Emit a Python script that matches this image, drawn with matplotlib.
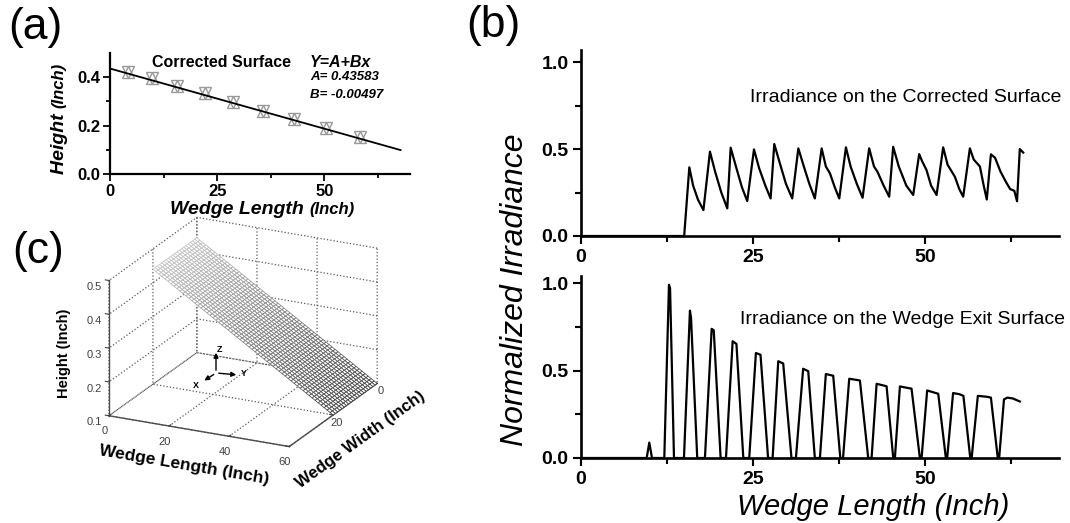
import numpy as np
import matplotlib
matplotlib.use("Agg")
import matplotlib.pyplot as plt
from matplotlib.ticker import FixedLocator
from matplotlib.patches import FancyArrowPatch
from mpl_toolkits.mplot3d.art3d import Poly3DCollection

plt.rcParams['font.family'] = ['Liberation Sans', 'DejaVu Sans']

W, H = 1070, 523

# ---------------- data ----------------
# (a) measured heights along the corrected surface and the linear fit
sample_x = [4.1, 9.7, 15.7, 22.1, 28.7, 35.7, 43.0, 50.4, 58.4]
sample_h = [0.423, 0.395, 0.365, 0.333, 0.299, 0.262, 0.226, 0.189, 0.152]
fit_A = 0.43583
fit_B = -0.00497
fit_x_end = 67.8

# (b) irradiance on the corrected surface
corrected_x = [0, 15.0, 15.75, 16.3, 17.0, 17.8,
               18.75, 19.5, 20.4, 21.27,
               21.76, 22.6, 23.4, 24.17,
               25.15, 25.9, 26.8, 27.57,
               28.1, 28.9, 29.8, 30.71,
               31.6, 32.4, 33.2, 34.0,
               34.99, 35.6, 36.2, 36.9, 37.55,
               38.52, 39.2, 40.1, 40.94,
               41.9, 42.6, 43.1, 44.0, 44.81,
               45.39, 46.2, 47.3, 48.3,
               49.17, 49.6, 50.24, 50.9, 51.7,
               52.66, 53.3, 54.36, 55.0, 55.57,
               56.54, 57.1, 58.0, 58.5, 59.0,
               59.6, 60.2, 61.0, 61.8, 62.4, 63.0, 63.4,
               63.8, 64.3]
corrected_y = [0, 0, 0.395, 0.29, 0.21, 0.149,
               0.485, 0.37, 0.25, 0.159,
               0.508, 0.39, 0.28, 0.201,
               0.498, 0.39, 0.29, 0.216,
               0.529, 0.42, 0.30, 0.216,
               0.504, 0.40, 0.30, 0.216,
               0.504, 0.40, 0.36, 0.28, 0.216,
               0.51, 0.40, 0.30, 0.22,
               0.504, 0.40, 0.37, 0.29, 0.226,
               0.513, 0.40, 0.29, 0.236,
               0.471, 0.43, 0.379, 0.29, 0.236,
               0.51, 0.41, 0.341, 0.27, 0.226,
               0.504, 0.44, 0.40, 0.30, 0.21,
               0.47, 0.45, 0.37, 0.31, 0.27, 0.26, 0.20,
               0.50, 0.48]

# (b) irradiance on the wedge exit surface
exit_x = [0, 9.55, 9.93, 10.32,
          12.11, 12.79, 12.95, 13.52,
          14.97, 15.84, 16.0, 16.9,
          18.02, 19.0, 19.3, 20.3,
          21.08, 22.05, 22.6, 23.6,
          24.46, 25.43, 26.1, 27.2,
          27.86, 28.68, 29.4, 30.6,
          31.25, 32.3, 33.04, 34.0,
          34.74, 35.6, 36.67, 37.7,
          38.1, 39.0, 40.55, 41.76,
          42.25, 42.98, 44.43, 45.4,
          45.64, 46.37, 48.06, 49.27,
          49.52, 50.33, 51.94, 53.05,
          53.24, 54.1, 55.0, 55.6, 56.6,
          56.8, 57.7, 59.0, 59.6, 60.6,
          60.8, 61.5, 62.0, 62.8, 63.8]
exit_y = [0, 0, 0.088, 0,
          0, 0.99, 0.97, 0,
          0, 0.842, 0.80, 0,
          0, 0.738, 0.73, 0,
          0, 0.667, 0.652, 0,
          0, 0.60, 0.59, 0,
          0, 0.553, 0.54, 0,
          0, 0.51, 0.496, 0,
          0, 0.48, 0.47, 0,
          0, 0.453, 0.443, 0,
          0, 0.424, 0.41, 0,
          0, 0.409, 0.396, 0,
          0, 0.386, 0.367, 0,
          0, 0.371, 0.365, 0.355, 0,
          0, 0.355, 0.35, 0.345, 0,
          0, 0.335, 0.345, 0.34, 0.323]

# (c) wedge surface: length/width extent and heights at both ends
wedge_length_ends = [0, 60]
wedge_height_ends = [0.44, 0.10]
wedge_width = 20
x3_ticks = [0, 20, 40, 60]
y3_ticks = [0, 20, 40]
y3_ticklabels = ['0', '20', '']
z3_ticks = [0.1, 0.2, 0.3, 0.4, 0.5]


def px_rect(left, top, right, bottom):
    return [left / W, 1 - bottom / H, (right - left) / W, (bottom - top) / H]


def fx(x):
    return x / W


def fy(y):
    return 1 - y / H


fig = plt.figure(figsize=(W / 100, H / 100), dpi=100)
fig.patch.set_facecolor('white')


def style_2d(ax, lw):
    for s in ('top', 'right'):
        ax.spines[s].set_visible(False)
    for s in ('left', 'bottom'):
        ax.spines[s].set_linewidth(lw)
    ax.tick_params(which='both', direction='out', width=lw * 0.8)
    ax.tick_params(which='major', length=5)
    ax.tick_params(which='minor', length=3)


# ---------------- (a) ----------------
ax_a = fig.add_axes(px_rect(110, 53, 410, 174))
style_2d(ax_a, 1.6)
ax_a.set_xlim(0, 70)
ax_a.set_ylim(0, 0.5)
ax_a.xaxis.set_major_locator(FixedLocator([0, 25, 50]))
ax_a.xaxis.set_minor_locator(FixedLocator([12.5, 37.5, 62.5]))
ax_a.yaxis.set_major_locator(FixedLocator([0, 0.2, 0.4]))
ax_a.yaxis.set_minor_locator(FixedLocator([0.1, 0.3]))
ax_a.set_xticklabels(['0', '25', '50'])
ax_a.set_yticklabels(['0.0', '0.2', '0.4'])
for lab in ax_a.get_xticklabels() + ax_a.get_yticklabels():
    lab.set_fontweight('bold')
    lab.set_fontsize(12)
ax_a.tick_params(axis='both', pad=2)

ax_a.plot([0, fit_x_end], [fit_A, fit_A + fit_B * fit_x_end], color='black', lw=1.3, zorder=3)
for mk in ('^', 'v'):
    ax_a.plot(sample_x, sample_h, linestyle='none', marker=mk, ms=8.5, mfc='none', mec='0.6',
              mew=1.0, zorder=2)

fig.text(fx(152), fy(62), 'Corrected Surface', fontsize=11.5, fontweight='bold', ha='left', va='center')
fig.text(fx(310), fy(62), 'Y=A+Bx', fontsize=11.5, fontweight='bold', style='italic', ha='left', va='center')
fig.text(fx(310), fy(77.5), 'A= %.5f' % fit_A, fontsize=9.5, fontweight='bold', style='italic', ha='left', va='center')
fig.text(fx(310), fy(94.5), 'B= %.5f' % fit_B, fontsize=9.5, fontweight='bold', style='italic', ha='left', va='center')

t_wl = fig.text(fx(170), fy(214), 'Wedge Length ', fontsize=14, fontweight='bold', style='italic',
                ha='left', va='baseline')
ax_a.annotate('(Inch)', xy=(1, 0), xycoords=t_wl, xytext=(0, 0.6), textcoords='offset points',
              fontsize=12, fontweight='bold', style='italic', ha='left', va='bottom', annotation_clip=False)

t_h = fig.text(fx(60), fy(174), 'Height ', fontsize=14, fontweight='bold', style='italic',
               rotation=90, ha='center', va='bottom')
ax_a.annotate('(Inch)', xy=(0.5, 1), xycoords=t_h, xytext=(-0.6, 0), textcoords='offset points',
              fontsize=12, fontweight='bold', style='italic', rotation=90, ha='center', va='bottom',
              annotation_clip=False)

# ---------------- (b) ----------------
ax_b1 = fig.add_axes(px_rect(581, 50, 1059, 236))
ax_b2 = fig.add_axes(px_rect(581, 276, 1059, 458))
for ax, ytop in ((ax_b1, 1.07), (ax_b2, 1.04)):
    style_2d(ax, 1.9)
    ax.set_xlim(0, 69.5)
    ax.set_ylim(0, ytop)
    ax.xaxis.set_major_locator(FixedLocator([0, 25, 50]))
    ax.xaxis.set_minor_locator(FixedLocator([12.5, 37.5, 62.5]))
    ax.yaxis.set_major_locator(FixedLocator([0, 0.5, 1.0]))
    ax.yaxis.set_minor_locator(FixedLocator([0.25, 0.75]))
    ax.set_xticklabels(['0', '25', '50'])
    ax.set_yticklabels(['0.0', '0.5', '1.0'])
    for lab in ax.get_xticklabels() + ax.get_yticklabels():
        lab.set_fontweight('bold')
        lab.set_fontsize(14)
    ax.tick_params(which='major', length=6)
    ax.tick_params(which='minor', length=4)
    ax.tick_params(axis='both', pad=3)

ax_b1.plot(corrected_x, corrected_y, color='black', lw=1.6, clip_on=False)
ax_b2.plot(exit_x, exit_y, color='black', lw=1.6, clip_on=False)

fig.text(fx(1061), fy(97), 'Irradiance on the Corrected Surface', fontsize=14, ha='right', va='center')
fig.text(fx(1065), fy(319), 'Irradiance on the Wedge Exit Surface', fontsize=14, ha='right', va='center')
fig.text(fx(515), fy(290), 'Normalized Irradiance', fontsize=23, style='italic', rotation=90,
         ha='center', va='center')
fig.text(fx(873), fy(507), 'Wedge Length (Inch)', fontsize=21, style='italic', ha='center', va='center')

# ---------------- (c) ----------------
grid_rc = {'grid.linestyle': ':', 'grid.color': '0.35', 'grid.linewidth': 0.9}
with plt.rc_context(grid_rc):
    ax_c = fig.add_axes(px_rect(34, 186, 444, 486), projection='3d')
ax_c.set_proj_type('ortho')
ax_c.view_init(elev=20.5, azim=-64)
ax_c.set_box_aspect((1, 1, 0.72), zoom=1.03)
ax_c.set_xlim(0, 60)
ax_c.set_ylim(40, 0)
ax_c.set_zlim(0.1, 0.5)
ax_c.set_xticks(x3_ticks)
ax_c.set_yticks(y3_ticks)
ax_c.set_yticklabels(y3_ticklabels)
ax_c.set_zticks(z3_ticks)
ax_c.set_zticklabels(['%.1f' % v for v in z3_ticks])
ax_c.set_facecolor('none')
for axis in (ax_c.xaxis, ax_c.yaxis, ax_c.zaxis):
    axis.set_pane_color((1, 1, 1, 0))
    axis.pane.set_edgecolor((1, 1, 1, 0))
    axis._axinfo['grid'].update({'color': '0.35', 'linestyle': ':', 'linewidth': 0.9})
    axis.line.set_color('0.3')
    axis.line.set_linewidth(1.0)
    axis._axinfo['tick']['inward_factor'] = 0.0
    axis._axinfo['tick']['outward_factor'] = 0.25
ax_c.tick_params(labelsize=8, colors='0.25', pad=-2)
ax_c.yaxis.set_tick_params(pad=-6)
ax_c.set_xlabel('Wedge Length (Inch)', fontsize=12.5, fontweight='bold', labelpad=-2)
ax_c.set_ylabel('Wedge Width (Inch)', fontsize=12, fontweight='bold', labelpad=-4)
ax_c.set_zlabel('Height (Inch)', fontsize=10.5, fontweight='bold', labelpad=-2)

# mesh of the wedge surface
gx = np.linspace(wedge_length_ends[0], wedge_length_ends[1], 61)
gy = np.linspace(0, wedge_width, 21)
GX, GY = np.meshgrid(gx, gy)
GZ = np.interp(GX, wedge_length_ends, wedge_height_ends)
polys = []
shades = []
for i in range(GX.shape[0] - 1):
    for j in range(GX.shape[1] - 1):
        quad = [(GX[i, j], GY[i, j], GZ[i, j]), (GX[i, j + 1], GY[i, j + 1], GZ[i, j + 1]),
                (GX[i + 1, j + 1], GY[i + 1, j + 1], GZ[i + 1, j + 1]), (GX[i + 1, j], GY[i + 1, j], GZ[i + 1, j])]
        polys.append(quad)
        shades.append(np.mean([q[2] for q in quad]))
shades = np.array(shades)
lev = (shades - min(wedge_height_ends)) / (max(wedge_height_ends) - min(wedge_height_ends))
edge_cols = plt.cm.gray(0.25 + 0.52 * lev)
mesh = Poly3DCollection(polys, facecolors='white', edgecolors=edge_cols, linewidths=0.55)
ax_c.add_collection3d(mesh)

# keep the height axis on the left-hand vertical edge
for pos in ('lower', 'upper'):
    ax_c.zaxis.set_ticks_position(pos)
    ax_c.zaxis.set_label_position(pos)
    fig.canvas.draw()
    bb = ax_c.zaxis.get_ticklabels()[0].get_window_extent()
    if bb.x1 < 0.5 * (ax_c.bbox.x0 + ax_c.bbox.x1):
        break


# coordinate triad
def arrow(p0, p1):
    a = FancyArrowPatch((fx(p0[0]), fy(p0[1])), (fx(p1[0]), fy(p1[1])), transform=fig.transFigure,
                        arrowstyle='-|>', mutation_scale=7, lw=1.0, color='black')
    fig.add_artist(a)


origin = (216, 373)
arrow(origin, (216, 350))
arrow(origin, (239, 375))
arrow(origin, (202, 382))
fig.text(fx(217), fy(350), 'Z', fontsize=6.5, fontweight='bold', ha='left', va='center')
fig.text(fx(244), fy(374), 'Y', fontsize=6.5, fontweight='bold', ha='center', va='center')
fig.text(fx(196), fy(385), 'X', fontsize=6.5, fontweight='bold', ha='center', va='center')

# ---------------- panel letters ----------------
fig.text(fx(8), fy(28), '(a)', fontsize=32, ha='left', va='center')
fig.text(fx(466), fy(26), '(b)', fontsize=32, ha='left', va='center')
fig.text(fx(12), fy(252), '(c)', fontsize=32, ha='left', va='center')

fig.savefig('out.png', dpi=100, facecolor='white')
